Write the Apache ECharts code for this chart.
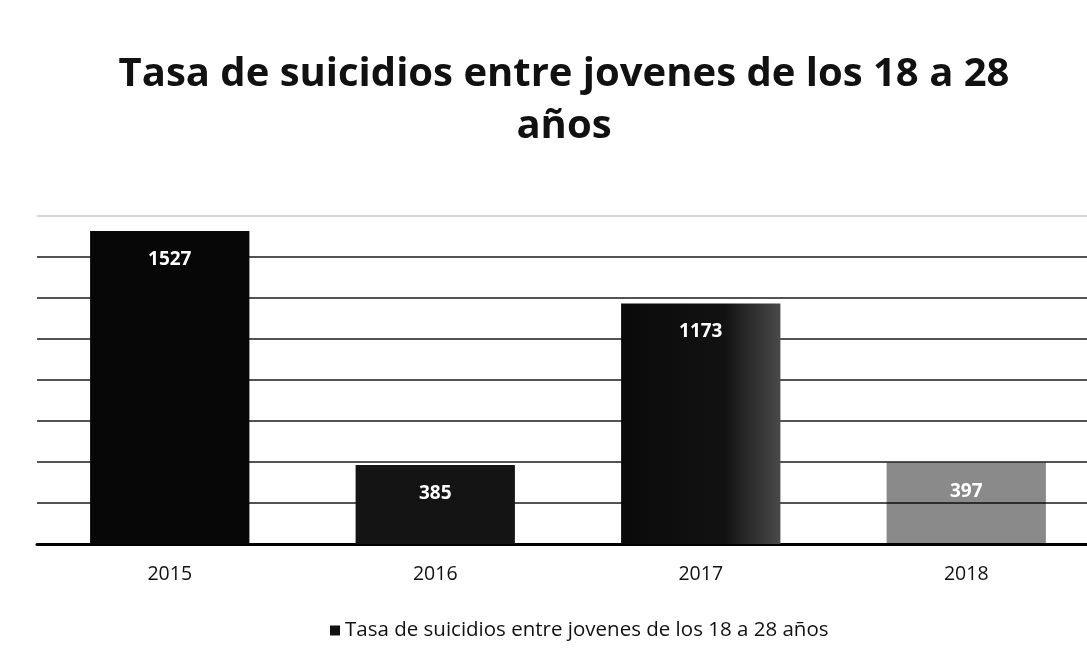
<!DOCTYPE html>
<html>
<head>
<meta charset="utf-8">
<script src="https://cdn.jsdelivr.net/npm/echarts@6/dist/echarts.min.js"></script>
<style>html,body{margin:0;padding:0;background:#fff;}#c{width:1087px;height:660px;}</style>
</head>
<body>
<div id="c"></div>
<script>
const titleText = 'Tasa de suicidios entre jovenes de los 18 a 28\naños';
const seriesName = 'Tasa de suicidios entre jovenes de los 18 a 28 años';
const categories = ['2015', '2016', '2017', '2018'];
const values = [1527, 385, 1173, 397];

const barColors = [
  '#070707',
  '#141414',
  new echarts.graphic.LinearGradient(0, 0, 1, 0, [
    { offset: 0, color: '#0a0a0a' },
    { offset: 0.65, color: '#121212' },
    { offset: 1, color: '#4a4a4a' }
  ]),
  'rgba(0,0,0,0.46)'
];

const chart = echarts.init(document.getElementById('c'));
chart.setOption({
  backgroundColor: '#ffffff',
  animation: false,
  title: {
    text: titleText,
    left: 559,
    textAlign: 'center',
    top: 44,
    textStyle: { fontFamily: 'Open Sans', fontWeight: 'bold', fontSize: 40, color: '#111', lineHeight: 52 }
  },
  legend: {
    bottom: 14,
    left: 325,
    itemWidth: 10, itemHeight: 10, itemGap: 6,
    icon: 'rect',
    textStyle: { fontFamily: 'Open Sans', fontSize: 20.5, color: '#111' },
    data: [{ name: seriesName, itemStyle: { color: '#111' } }]
  },
  grid: { left: 37, width: 1062, top: 216, bottom: 116, containLabel: false, outerBoundsMode: 'none' },
  xAxis: {
    type: 'category',
    data: categories,
    axisLine: { show: true, lineStyle: { color: '#000', width: 3 } },
    axisTick: { show: false },
    axisLabel: { fontFamily: 'Open Sans', fontSize: 19.5, color: '#111', margin: 20 }
  },
  yAxis: {
    type: 'value',
    min: 0, max: 1600, interval: 200,
    axisLabel: { show: false },
    axisLine: { show: false },
    axisTick: { show: false },
    splitLine: { lineStyle: { color: ['#000', '#1a1a1a', '#1a1a1a', '#1a1a1a', '#1a1a1a', '#1a1a1a', '#1a1a1a', '#1a1a1a', '#c8c8c8'], width: 1.5 } }
  },
  series: [{
    name: seriesName,
    type: 'bar',
    barCategoryGap: '40%',
    data: values.map((v, i) => ({ value: v, itemStyle: { color: barColors[i] } })),
    label: {
      show: true, position: 'insideTop', distance: 19,
      color: '#fff', fontFamily: 'Open Sans', fontWeight: 'bold', fontSize: 19
    }
  }]
});
</script>
</body>
</html>
